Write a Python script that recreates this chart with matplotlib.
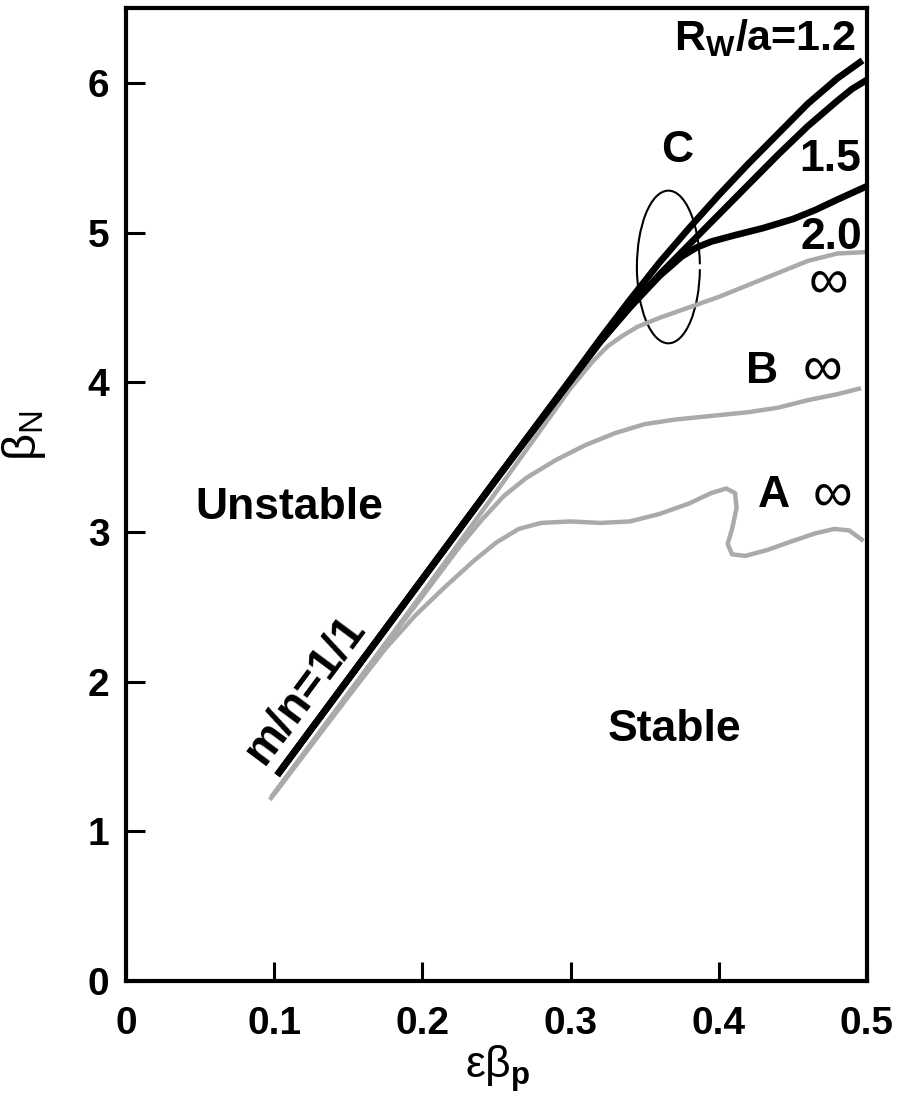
import matplotlib
matplotlib.use('Agg')
import matplotlib.pyplot as plt
from matplotlib.patches import Arc

plt.rcParams['font.family'] = ['Liberation Sans', 'DejaVu Sans']
plt.rcParams['mathtext.fontset'] = 'custom'
plt.rcParams['mathtext.rm'] = 'Liberation Sans'
plt.rcParams['mathtext.bf'] = 'Liberation Sans:bold'
plt.rcParams['mathtext.it'] = 'Liberation Sans:italic'

# wall position curves (black)
x_rw12 = [0.102, 0.15, 0.2, 0.25, 0.3, 0.32, 0.34, 0.36, 0.38, 0.40, 0.42, 0.44, 0.46, 0.48, 0.497]
y_rw12 = [1.375, 2.017, 2.685, 3.354, 4.02, 4.29, 4.55, 4.80, 5.03, 5.25, 5.46, 5.66, 5.86, 6.03, 6.15]

x_rw15 = [0.102, 0.15, 0.2, 0.25, 0.3, 0.32, 0.34, 0.36, 0.38, 0.40, 0.42, 0.44, 0.46, 0.48, 0.49, 0.5]
y_rw15 = [1.375, 2.017, 2.685, 3.354, 4.01, 4.27, 4.50, 4.72, 4.92, 5.12, 5.32, 5.52, 5.71, 5.88, 5.96, 6.02]

x_rw20 = [0.102, 0.15, 0.2, 0.25, 0.3, 0.32, 0.34, 0.36, 0.375, 0.385, 0.395, 0.41, 0.43, 0.45, 0.465, 0.48, 0.5]
y_rw20 = [1.375, 2.017, 2.685, 3.354, 4.01, 4.27, 4.50, 4.71, 4.84, 4.90, 4.94, 4.98, 5.03, 5.09, 5.15, 5.22, 5.31]

# no-wall curves (grey)
x_C = [0.098, 0.15, 0.2, 0.25, 0.3, 0.315, 0.325, 0.335, 0.345, 0.36, 0.38, 0.40, 0.42, 0.44, 0.46, 0.48, 0.5]
y_C = [1.23, 1.92, 2.59, 3.27, 3.96, 4.14, 4.24, 4.31, 4.37, 4.43, 4.50, 4.57, 4.65, 4.73, 4.81, 4.86, 4.87]

x_B = [0.1, 0.15, 0.2, 0.225, 0.24, 0.255, 0.27, 0.29, 0.31, 0.33, 0.35, 0.37, 0.39, 0.42, 0.44, 0.46, 0.48, 0.496]
y_B = [1.25, 1.92, 2.57, 2.90, 3.08, 3.24, 3.36, 3.48, 3.58, 3.66, 3.72, 3.75, 3.77, 3.80, 3.83, 3.88, 3.92, 3.96]

x_A = [0.097, 0.15, 0.175, 0.195, 0.215, 0.235, 0.25, 0.265, 0.28, 0.3, 0.32, 0.34, 0.36, 0.38,
       0.395, 0.405, 0.411, 0.412, 0.409, 0.406, 0.409, 0.418, 0.433, 0.45, 0.465, 0.478, 0.488, 0.4977]
y_A = [1.21, 1.90, 2.22, 2.44, 2.63, 2.81, 2.93, 3.02, 3.06, 3.07, 3.06, 3.07, 3.12, 3.19,
       3.26, 3.29, 3.26, 3.16, 3.02, 2.92, 2.85, 2.84, 2.88, 2.94, 2.99, 3.02, 3.01, 2.94]

xticks = [0, 0.1, 0.2, 0.3, 0.4, 0.5]
xticklabels = ['0', '0.1', '0.2', '0.3', '0.4', '0.5']
yticks = [0, 1, 2, 3, 4, 5, 6]

GREY = '#aaaaaa'

fig = plt.figure(figsize=(9.10, 10.99), dpi=100)
ax = fig.add_axes([0.1385, 0.1074, 0.8142, 0.8853])

gkw = dict(color=GREY, lw=3.2, solid_capstyle='butt', solid_joinstyle='round')
bkw = dict(color='k', lw=4.8, solid_capstyle='butt', solid_joinstyle='round')
ax.plot(x_A, y_A, **gkw)
ax.plot(x_B, y_B, **gkw)
ax.plot(x_C, y_C, **gkw)
ax.plot(x_rw20, y_rw20, **bkw)
ax.plot(x_rw15, y_rw15, **bkw)
ax.plot(x_rw12, y_rw12, **bkw)

ax.add_patch(Arc((0.366, 4.77), 0.0425, 1.02, theta1=40, theta2=325,
                 color='k', lw=1.5))

ax.set_xlim(0, 0.5)
ax.set_ylim(0, 6.5)
ax.set_xticks(xticks)
ax.set_xticklabels(xticklabels)
ax.set_yticks(yticks)
for s in ax.spines.values():
    s.set_linewidth(3)
ax.tick_params(direction='in', length=14, width=2.2, labelsize=28)
ax.tick_params(axis='x', pad=18)
ax.tick_params(axis='y', pad=12)
for lab in ax.get_xticklabels() + ax.get_yticklabels():
    lab.set_fontweight('bold')

ax.set_xlabel(r'εβ$_{\mathbf{p}}$', fontsize=32)
ax.xaxis.set_label_coords(0.502, -0.064)
ax.set_ylabel(r'β$_{\mathrm{N}}$', fontsize=34)
ax.yaxis.set_label_coords(-0.105, 0.56)

tkw = dict(fontsize=32, fontweight='bold', ha='center', va='center')
ax.text(0.493, 6.30, r'R$_{\mathbf{W}}$/a=1.2', ha='right', va='center', fontsize=31, fontweight='bold')
ax.text(0.475, 5.49, '1.5', **tkw)
ax.text(0.476, 4.97, '2.0', **tkw)
ax.text(0.372, 5.55, 'C', **tkw)
ax.text(0.429, 4.07, 'B', **tkw)
ax.text(0.437, 3.24, 'A', **tkw)
ax.text(0.474, 4.66, '∞', fontsize=40, ha='center', va='center')
ax.text(0.470, 4.08, '∞', fontsize=40, ha='center', va='center')
ax.text(0.477, 3.24, '∞', fontsize=40, ha='center', va='center')
ax.text(0.110, 3.16, 'Unstable', **tkw)
ax.text(0.370, 1.68, 'Stable', **tkw)
ax.text(0.121, 1.95, 'm/n=1/1', rotation=53.4, fontsize=33, fontweight='bold', ha='center', va='center')

fig.savefig('out.png', dpi=100)
